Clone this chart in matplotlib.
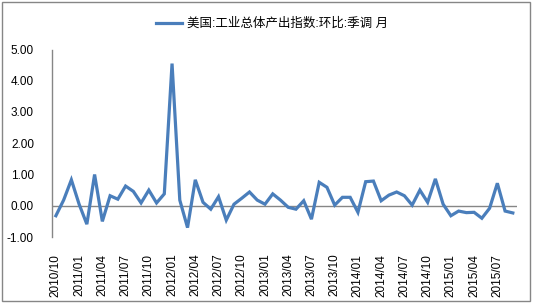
import matplotlib
matplotlib.use("Agg")
import matplotlib.pyplot as plt
from matplotlib.patches import Rectangle

plt.rcParams['font.family'] = ['Liberation Sans', 'Noto Sans CJK SC', 'DejaVu Sans']

# monthly values, 2010/10 .. 2015/09
values = [-0.32, 0.18, 0.83, 0.05, -0.59, 1.00, -0.50, 0.32, 0.21, 0.63,
          0.46, 0.09, 0.50, 0.09, 0.38, 4.55, 0.18, -0.70, 0.83, 0.11,
          -0.11, 0.29, -0.46, 0.05, 0.24, 0.44, 0.18, 0.05, 0.38, 0.18,
          -0.05, -0.11, 0.16, -0.43, 0.75, 0.59, 0.02, 0.27, 0.27, -0.21,
          0.77, 0.79, 0.16, 0.34, 0.44, 0.32, 0.02, 0.50, 0.11, 0.86,
          0.05, -0.32, -0.17, -0.22, -0.21, -0.40, -0.08, 0.72, -0.17, -0.23]
tick_labels = ['2010/10', '2011/01', '2011/04', '2011/07', '2011/10',
               '2012/01', '2012/04', '2012/07', '2012/10', '2013/01',
               '2013/04', '2013/07', '2013/10', '2014/01', '2014/04',
               '2014/07', '2014/10', '2015/01', '2015/04', '2015/07']
series_name = '美国:工业总体产出指数:环比:季调 月'

grey = '#868686'
blue = '#4A7EBB'

fig = plt.figure(figsize=(5.33, 3.06), dpi=100)
ax = fig.add_axes([52/533, 1-237/306, (516.7-52)/533, (237-49.5)/306])

x = list(range(len(values)))
ax.plot(x, values, color=blue, lw=2.3, label=series_name, solid_joinstyle='miter')
ax.axhline(0, color=grey, lw=1, zorder=1)

ax.set_xlim(-0.5, len(values) - 0.5)
ax.set_ylim(-1, 5)
ax.set_yticks([-1, 0, 1, 2, 3, 4, 5])
ax.set_yticklabels(['%.2f' % v for v in [-1, 0, 1, 2, 3, 4, 5]])
ax.set_xticks(x[::3])
ax.set_xticklabels(tick_labels, rotation=90, va='top', ha='center')

for s in ['top', 'right', 'bottom']:
    ax.spines[s].set_visible(False)
ax.spines['left'].set_color(grey)
ax.spines['left'].set_linewidth(1)
ax.tick_params(axis='both', length=0, labelsize=8.5)
ax.tick_params(axis='y', pad=13)
ax.tick_params(axis='x', pad=12)

fig.legend(loc='center', bbox_to_anchor=(272/533, 1-24/306), frameon=False,
           fontsize=9, handlelength=2.1, handletextpad=0.35)

fig.patches.append(Rectangle((2/533, 1-301/306), 528/533, 299/306,
                             transform=fig.transFigure, fill=False,
                             edgecolor=grey, lw=1))

fig.savefig('out.png', dpi=100)
